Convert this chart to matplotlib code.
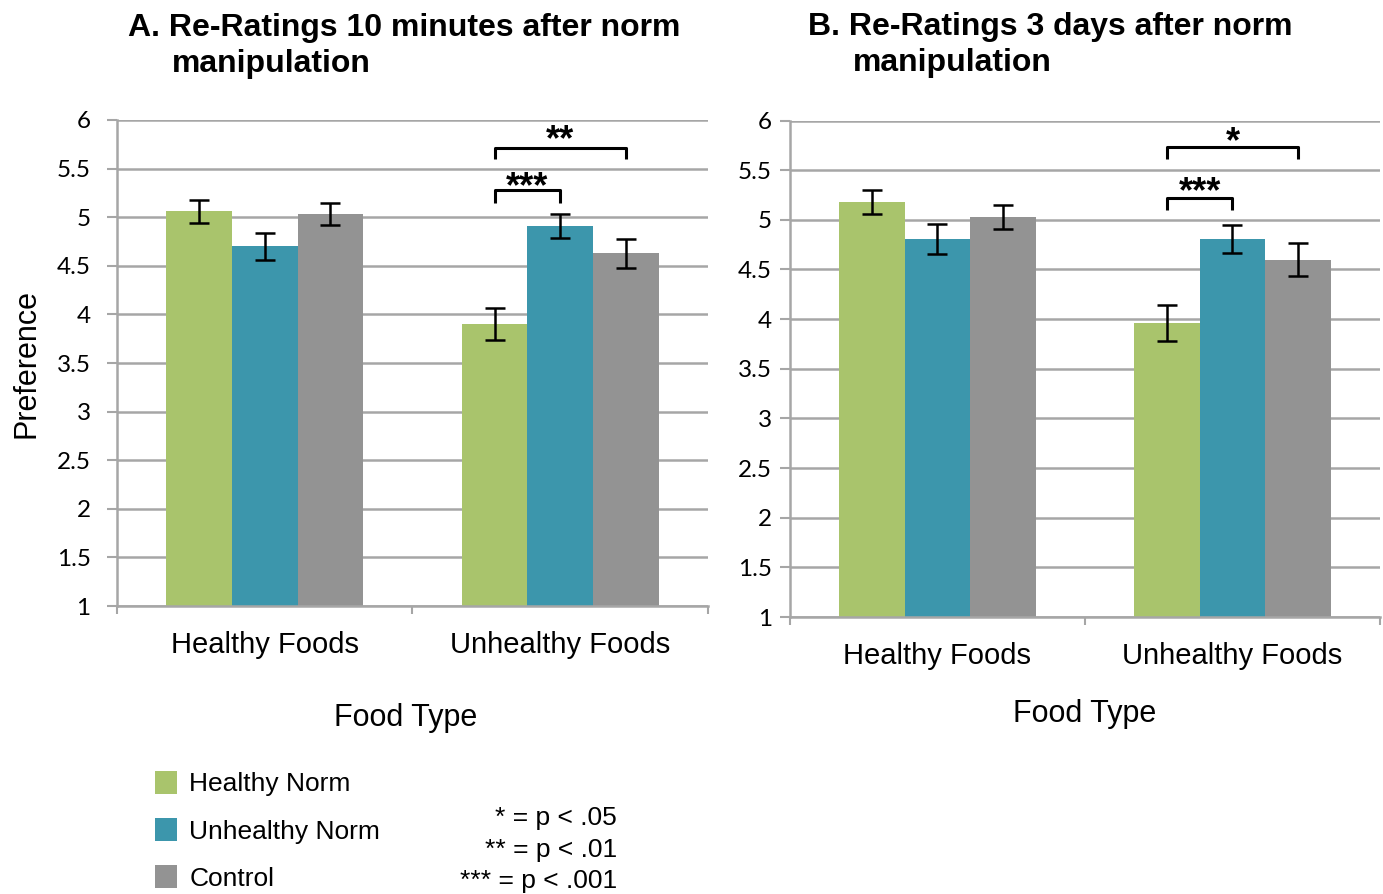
import matplotlib
matplotlib.use("Agg")
import matplotlib.pyplot as plt
import numpy as np
from matplotlib.patches import Patch

# ---- data -------------------------------------------------------------
categories = ["Healthy Foods", "Unhealthy Foods"]
groups = ["Healthy Norm", "Unhealthy Norm", "Control"]
colors = ["#A9C46C", "#3C96AC", "#939393"]

# Re-ratings 10 minutes after norm manipulation (means, SE)
min10_healthy_norm = [5.06, 3.90]
min10_unhealthy_norm = [4.70, 4.91]
min10_control = [5.03, 4.63]
min10_healthy_norm_err = [0.12, 0.165]
min10_unhealthy_norm_err = [0.14, 0.125]
min10_control_err = [0.115, 0.15]

# Re-ratings 3 days after norm manipulation (means, SE)
day3_healthy_norm = [5.18, 3.96]
day3_unhealthy_norm = [4.81, 4.81]
day3_control = [5.03, 4.60]
day3_healthy_norm_err = [0.12, 0.18]
day3_unhealthy_norm_err = [0.15, 0.14]
day3_control_err = [0.12, 0.165]

# significance brackets: (category, bar a, bar b, top, leg end, label y, label)
min10_brackets = [(1, 0, 1, 5.28, 5.145, 5.38, "***"),
                  (1, 0, 2, 5.71, 5.60, 5.86, "**")]
day3_brackets = [(1, 0, 1, 5.22, 5.10, 5.35, "***"),
                 (1, 0, 2, 5.735, 5.61, 5.85, "*")]

yticks = [1, 1.5, 2, 2.5, 3, 3.5, 4, 4.5, 5, 5.5, 6]
ytick_labels = ["1", "1.5", "2", "2.5", "3", "3.5", "4", "4.5", "5", "5.5", "6"]

# ---- style ------------------------------------------------------------
ARIAL = "Liberation Sans"
TICKFONT = "Lato"
GRID = "#A6A6A6"

fig = plt.figure(figsize=(13.83, 8.94), dpi=100)

bar_w = 1 / 4.5
offsets = np.array([-1, 0, 1]) * bar_w
centers = np.arange(len(categories)) + 0.5


def draw_panel(ax, means, errs, brackets, ypad, xlabelpad):
    for k, (m, e) in enumerate(zip(means, errs)):
        ax.bar(centers + offsets[k], m, width=bar_w, bottom=0,
               color=colors[k], zorder=3, linewidth=0)
        ax.errorbar(centers + offsets[k], m, yerr=e, fmt="none",
                    ecolor="black", elinewidth=1.8, capsize=7,
                    capthick=1.8, zorder=4)
    ax.set_ylim(1, 6)
    ax.set_xlim(0, len(categories))
    ax.set_yticks(yticks)
    ax.set_yticklabels(ytick_labels, fontfamily=TICKFONT, fontsize=17.5)
    ax.yaxis.grid(True, color=GRID, linewidth=1.8, zorder=0)
    ax.set_axisbelow(True)
    for s in ["top", "right"]:
        ax.spines[s].set_visible(False)
    for s in ["left", "bottom"]:
        ax.spines[s].set_color(GRID)
        ax.spines[s].set_linewidth(1.8)
        ax.spines[s].set_zorder(5)
    ax.tick_params(axis="y", direction="out", length=7, width=1.5,
                   color=GRID, pad=ypad)
    ax.set_xticks(np.arange(len(categories) + 1))
    ax.set_xticklabels([])
    ax.tick_params(axis="x", which="major", direction="out", length=6,
                   width=1.5, color=GRID)
    ax.set_xticks(centers, minor=True)
    ax.set_xticklabels(categories, minor=True, fontfamily=ARIAL, fontsize=21)
    ax.tick_params(axis="x", which="minor", length=0, pad=18)
    ax.set_xlabel("Food Type", fontfamily=ARIAL, fontsize=22,
                  labelpad=xlabelpad)

    for cat, a, b, top, leg, ly, label in brackets:
        xa = centers[cat] + offsets[a]
        xb = centers[cat] + offsets[b]
        ax.plot([xa, xa, xb, xb], [leg, top, top, leg], color="black",
                linewidth=2.2, solid_capstyle="butt", zorder=6, clip_on=False)
        fs = 26
        ax.annotate(label, xy=((xa + xb) / 2, ly), xytext=(0, -0.47 * fs),
                    textcoords="offset points", ha="center", va="baseline",
                    fontfamily=ARIAL, fontweight="bold", fontsize=fs, zorder=7)


ax1 = fig.add_axes([0.0846, 0.3221, 0.4273, 0.5437])
draw_panel(ax1,
           [min10_healthy_norm, min10_unhealthy_norm, min10_control],
           [min10_healthy_norm_err, min10_unhealthy_norm_err, min10_control_err],
           min10_brackets, ypad=12, xlabelpad=31.5)
ax1.set_ylabel("Preference", fontfamily=ARIAL, fontsize=22)
ax1.yaxis.set_label_coords(-0.1275, 0.5)
ax1.xaxis.set_label_coords(0.489, -0.199)

ax2 = fig.add_axes([0.5712, 0.3098, 0.4266, 0.5554])
draw_panel(ax2,
           [day3_healthy_norm, day3_unhealthy_norm, day3_control],
           [day3_healthy_norm_err, day3_unhealthy_norm_err, day3_control_err],
           day3_brackets, ypad=6, xlabelpad=21)

# ---- titles -----------------------------------------------------------
tkw = dict(fontfamily=ARIAL, fontweight="bold", fontsize=23, va="center",
           ha="left")
fig.text(128 / 1383, 1 - 28 / 894, "A. Re-Ratings 10 minutes after norm", **tkw)
fig.text(172 / 1383, 1 - 64 / 894, "manipulation", **tkw)
fig.text(808 / 1383, 1 - 27 / 894, "B. Re-Ratings 3 days after norm", **tkw)
fig.text(853 / 1383, 1 - 63 / 894, "manipulation", **tkw)

# ---- legend and significance key -------------------------------------
handles = [Patch(facecolor=c, edgecolor="none", label=g)
           for c, g in zip(colors, groups)]
fig.legend(handles=handles, loc="upper left",
           bbox_to_anchor=(155 / 1383, 1 - 771 / 894), frameon=False,
           prop={"family": ARIAL, "size": 19}, handlelength=0.85,
           handleheight=0.95, handletextpad=0.45, labelspacing=0.82,
           borderaxespad=0, borderpad=0)

key_lines = ["* = p < .05", "** = p < .01", "*** = p < .001"]
for i, line in enumerate(key_lines):
    fig.text(617 / 1383, 1 - (818 + 31.5 * i) / 894, line, ha="right",
             va="center", fontfamily=ARIAL, fontsize=19)

fig.savefig("out.png", dpi=100)
